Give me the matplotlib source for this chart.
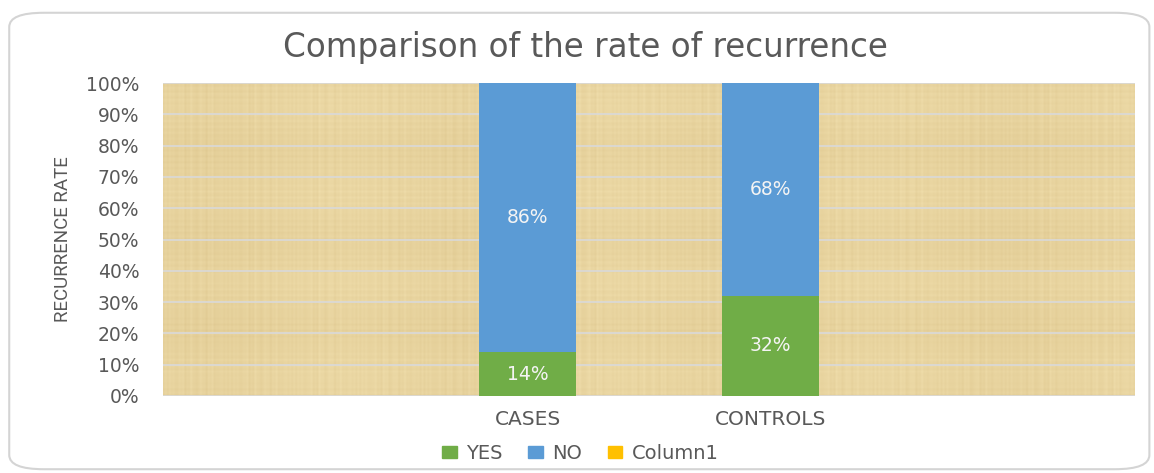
import numpy as np
import matplotlib
matplotlib.use("Agg")
import matplotlib.pyplot as plt
from matplotlib.patches import FancyBboxPatch, Patch

plt.rcParams['font.family'] = ['DejaVu Sans']

# data
categories = ["", "CASES", "CONTROLS", ""]
yes_vals = [0, 14, 32, 0]
no_vals = [0, 86, 68, 0]
col1_vals = [0, 0, 0, 0]

green = "#70AD47"
blue = "#5B9BD5"
gold = "#FFC000"
grey_txt = "#595959"

fig = plt.figure(figsize=(11.54, 4.73), dpi=100)

# rounded outer frame
frame = FancyBboxPatch((0.008, 0.008), 0.988, 0.965, transform=fig.transFigure,
                       boxstyle="round,pad=0,rounding_size=0.03",
                       facecolor="white", edgecolor="#d4d4d4", linewidth=1.5, zorder=-5)
fig.patches.append(frame)

ax = fig.add_axes([0.1413, 0.1628, 0.8422, 0.6617])
x = np.arange(len(categories))

# papyrus-like background texture (styling only)
h, w = 160, 500
yy = np.linspace(0, 1, h)[:, None]
xx = np.linspace(0, 1, w)[None, :]
tex = (0.5 * np.sin(xx * 613) * np.sin(xx * 47) + 0.4 * np.sin(xx * 1709 + 1.3)
       + 0.3 * np.sin(xx * 23 + 0.4)
       + 0.5 * np.sin(yy * 331) * np.sin(yy * 29 + 0.7) + 0.3 * np.sin(yy * 977))
tex = (tex - tex.min()) / (tex.max() - tex.min())
base = np.array([240, 222, 172]) / 255.0
dark = np.array([212, 186, 126]) / 255.0
img = base[None, None, :] * (1 - tex[..., None] * 0.6) + dark[None, None, :] * (tex[..., None] * 0.6)
ax.imshow(img, extent=(-0.5, len(categories) - 0.5, 0, 100), aspect="auto", zorder=0,
          interpolation="bilinear")

ax.set_xlim(-0.5, len(categories) - 0.5)
ax.set_ylim(0, 100)

bw = 0.4
ax.bar(x, yes_vals, bw, color=green, zorder=3, label="YES")
ax.bar(x, no_vals, bw, bottom=yes_vals, color=blue, zorder=3, label="NO")
ax.bar(x, col1_vals, bw, bottom=np.add(yes_vals, no_vals), color=gold, zorder=3, label="Column1")

for i in range(len(categories)):
    if yes_vals[i] > 0:
        ax.text(x[i], yes_vals[i] / 2, f"{yes_vals[i]}%", ha="center", va="center",
                color="#f4f4f4", fontsize=13.5, zorder=4)
    if no_vals[i] > 0:
        ax.text(x[i], yes_vals[i] + no_vals[i] / 2, f"{no_vals[i]}%", ha="center", va="center",
                color="#f4f4f4", fontsize=13.5, zorder=4)

ax.set_yticks(range(0, 101, 10))
ax.set_yticklabels([f"{v}%" for v in range(0, 101, 10)], color=grey_txt, fontsize=13.5)
ax.set_xticks(x)
ax.set_xticklabels(categories, color=grey_txt, fontsize=14.5)
ax.tick_params(axis="y", length=0, pad=17)
ax.tick_params(axis="x", length=0, pad=10)
ax.grid(axis="y", color="#d9d9d9", linewidth=1.2, zorder=1)
ax.set_axisbelow(False)
for s in ax.spines.values():
    s.set_visible(False)

ax.set_ylabel("RECURRENCE RATE", color=grey_txt, fontsize=13.5, family="Roboto")
ax.yaxis.set_label_coords(-0.094, 0.5)
fig.text(0.507, 0.90, "Comparison of the rate of recurrence", ha="center", va="center",
         color=grey_txt, fontsize=23.5)

handles = [Patch(color=green, label="YES"), Patch(color=blue, label="NO"), Patch(color=gold, label="Column1")]
fig.legend(handles=handles, loc="center", bbox_to_anchor=(0.503, 0.042), ncol=3, frameon=False,
           fontsize=14, handlelength=0.75, handleheight=0.6, handletextpad=0.5, columnspacing=1.3,
           labelcolor=grey_txt)

fig.savefig("out.png", dpi=100)
